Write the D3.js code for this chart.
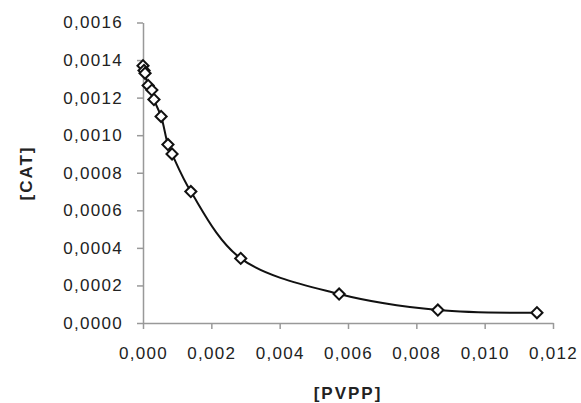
<!DOCTYPE html>
<html lang="en">
<head>
  <meta charset="utf-8">
  <title>[CAT] vs [PVPP]</title>
  <script src="https://d3js.org/d3.v7.min.js"></script>
  <style>
    body { margin: 0; background: #fff; }
    .tick text { font-family: "Liberation Sans", Arial, sans-serif; font-size: 17px; fill: #222; letter-spacing: 1.3px; }
    .axis path, .axis line { stroke: #999; stroke-width: 1.5; }
    .label { font-family: "Liberation Sans", Arial, sans-serif; font-size: 17px; font-weight: bold; fill: #222; letter-spacing: 2px; }
  </style>
</head>
<body>
  <script>
    // values
    const pvpp = [0.00000, 0.00003, 0.00006, 0.00015, 0.00026, 0.00032, 0.00053, 0.00073, 0.00085, 0.00140, 0.00286, 0.00574, 0.00863, 0.01153];
    const cat  = [0.00137, 0.001345, 0.00133, 0.001265, 0.00124, 0.00119, 0.00110, 0.00095, 0.00090, 0.00070, 0.000344, 0.000154, 0.000069, 0.000055];
    const xTicks = [0, 0.002, 0.004, 0.006, 0.008, 0.010, 0.012];
    const yTicks = [0, 0.0002, 0.0004, 0.0006, 0.0008, 0.0010, 0.0012, 0.0014, 0.0016];

    const width = 581, height = 403;
    const points = pvpp.map((x, i) => ({x: x, y: cat[i]}));

    const locale = d3.formatLocale({decimal: ",", thousands: ".", grouping: [3], currency: ["", ""]});

    const x = d3.scaleLinear().domain([0, 0.012]).range([143, 553]);
    const y = d3.scaleLinear().domain([0, 0.0016]).range([323, 22.5]);

    const svg = d3.select("body").append("svg")
        .attr("width", width)
        .attr("height", height);

    svg.append("g")
        .attr("class", "axis")
        .attr("transform", "translate(0,323)")
        .call(d3.axisBottom(x).tickValues(xTicks).tickFormat(locale.format(".3f")).tickSize(6).tickSizeOuter(0).tickPadding(18));

    svg.append("g")
        .attr("class", "axis")
        .attr("transform", "translate(143,0)")
        .call(d3.axisLeft(y).tickValues(yTicks).tickFormat(locale.format(".4f")).tickSize(6).tickSizeOuter(0).tickPadding(14));

    let lineFn = d3.line()
        .x(d => x(d.x))
        .y(d => y(d.y))
        .curve(d3.curveCatmullRom.alpha(0.5));

    svg.append("path")
        .attr("d", lineFn(points))
        .style("fill", "none")
        .style("stroke", "#111")
        .style("stroke-width", 2);

    // diamonds = squares turned 45 degrees
    const diamond = d3.symbol().type(d3.symbolSquare).size(62);
    svg.selectAll(".pt")
        .data(points)
        .join("path")
        .attr("class", "pt")
        .attr("d", diamond)
        .attr("transform", d => `translate(${x(d.x)},${y(d.y)}) rotate(45)`)
        .style("fill", "#fff")
        .style("stroke", "#111")
        .style("stroke-width", 2);

    svg.append("text")
        .attr("class", "label")
        .attr("text-anchor", "middle")
        .attr("transform", "translate(32,173) rotate(-90)")
        .text("[CAT]");

    svg.append("text")
        .attr("class", "label")
        .attr("text-anchor", "middle")
        .attr("x", 348)
        .attr("y", 399)
        .text("[PVPP]");
  </script>
</body>
</html>
